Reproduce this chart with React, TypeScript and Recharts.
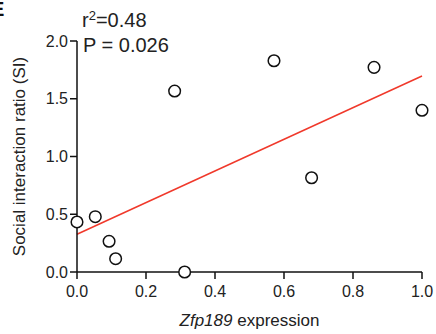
import { ReferenceLine, Scatter, ScatterChart, XAxis, YAxis } from 'recharts';

const FONT = '"Liberation Sans", Arial, sans-serif';

// Zfp189 expression (x) vs social interaction ratio (y)
const expression = [0.0, 0.053, 0.093, 0.112, 0.312, 0.283, 0.571, 0.68, 0.861, 1.0];
const siRatio = [0.433, 0.479, 0.266, 0.115, 0.0, 1.567, 1.829, 0.816, 1.772, 1.4];

// linear fit endpoints
const fitX = [0, 1];
const fitY = [0.327, 1.697];

const xTicks = [0, 0.2, 0.4, 0.6, 0.8, 1.0];
const yTicks = [0, 0.5, 1.0, 1.5, 2.0];

const points = expression.map((x, i) => ({ x, y: siRatio[i] }));

const tickStyle = { fill: '#222', fontSize: 16, fontFamily: FONT };

function OpenCircle(props: { cx?: number; cy?: number }) {
  return <circle cx={props.cx} cy={props.cy} r={5.8} fill="#fff" stroke="#111" strokeWidth={1.5} />;
}

export default function App() {
  return (
    <div style={{ position: 'absolute', left: 0, top: 0, width: 436, height: 334, background: '#fff', overflow: 'hidden' }}>
      <ScatterChart width={436} height={334} margin={{ top: 41, right: 14, bottom: 0, left: 0 }}>
        <XAxis
          type="number"
          dataKey="x"
          domain={[0, 1]}
          ticks={xTicks}
          tickFormatter={(v: number) => v.toFixed(1)}
          height={62}
          tick={tickStyle}
          tickSize={7}
          tickMargin={7}
          axisLine={{ stroke: '#111', strokeWidth: 1.5 }}
          tickLine={{ stroke: '#111', strokeWidth: 1.5 }}
          label={(p: any) => {
            const vb = p.viewBox;
            return (
              <text
                x={vb.x + vb.width / 2}
                y={326}
                textAnchor="middle"
                fontSize={17}
                fontFamily={FONT}
                fill="#222"
              >
                <tspan fontStyle="italic">Zfp189</tspan> expression
              </text>
            );
          }}
        />
        <YAxis
          type="number"
          dataKey="y"
          domain={[0, 2]}
          ticks={yTicks}
          tickFormatter={(v: number) => v.toFixed(1)}
          width={77}
          tick={tickStyle}
          tickSize={7}
          tickMargin={2}
          axisLine={{ stroke: '#111', strokeWidth: 1.5 }}
          tickLine={{ stroke: '#111', strokeWidth: 1.5 }}
          label={(p: any) => {
            const vb = p.viewBox;
            const cy = vb.y + vb.height / 2;
            return (
              <text
                x={25}
                y={cy}
                transform={`rotate(-90 25 ${cy})`}
                textAnchor="middle"
                fontSize={17}
                fontFamily={FONT}
                fill="#222"
              >
                Social interaction ratio (SI)
              </text>
            );
          }}
        />
        <ReferenceLine
          segment={[
            { x: fitX[0], y: fitY[0] },
            { x: fitX[1], y: fitY[1] },
          ]}
          stroke="#f0392b"
          strokeWidth={1.5}
        />
        <Scatter data={points} shape={<OpenCircle />} isAnimationActive={false} />
        <text x={-9} y={16} fontSize={20} fontWeight="bold" fontFamily={FONT} fill="#111">
          E
        </text>
        <text x={82} y={27} fontSize={20} fontFamily={FONT} fill="#222">
          r<tspan dy={-7} fontSize={13}>2</tspan>
          <tspan dy={7}>=0.48</tspan>
        </text>
        <text x={83} y={52} fontSize={20} fontFamily={FONT} fill="#222">
          P = 0.026
        </text>
      </ScatterChart>
    </div>
  );
}
